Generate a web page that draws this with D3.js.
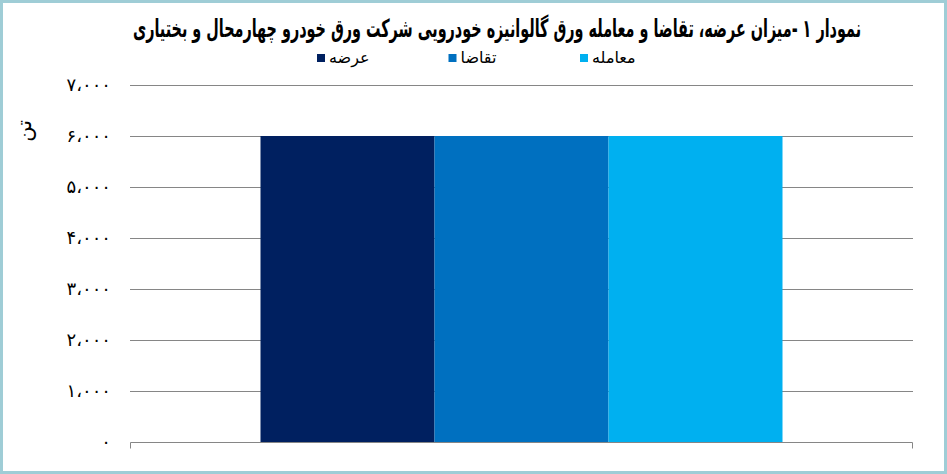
<!DOCTYPE html>
<html>
<head>
<meta charset="utf-8">
<script src="https://cdn.jsdelivr.net/npm/d3@7"></script>
<style>
  body { margin: 0; background: #fff; }
  svg { display: block; font-family: "DejaVu Sans", sans-serif; }
</style>
</head>
<body>
<svg id="chart"></svg>
<script>
const title = "نمودار ۱ -میزان عرضه، تقاضا و معامله ورق گالوانیزه خودرویی شرکت ورق خودرو چهارمحال و بختیاری";
const yTitle = "تن";
const categories = ["ورق گالوانیزه"];
const seriesNames = ["عرضه", "تقاضا", "معامله"];
const seriesValues = [[6000], [6000], [6000]];
const colors = ["#002060", "#0070C0", "#00B0F0"];
const yTicks = [0, 1000, 2000, 3000, 4000, 5000, 6000, 7000];

const width = 947, height = 474;
const margin = { top: 85, right: 34, bottom: 32, left: 130 };

const svg = d3.select("#chart").attr("width", width).attr("height", height);

// frame
svg.append("rect")
  .attr("x", 1.5).attr("y", 1.5)
  .attr("width", width - 3).attr("height", height - 3)
  .attr("fill", "#fff")
  .attr("stroke", "#9fcdd6")
  .attr("stroke-width", 3);

const x0 = d3.scaleBand()
  .domain(categories)
  .range([margin.left, width - margin.right])
  .paddingInner(0)
  .paddingOuter(0.25);

const x1 = d3.scaleBand()
  .domain(seriesNames)
  .range([0, x0.bandwidth()]);

const y = d3.scaleLinear()
  .domain([0, 7000])
  .range([height - margin.bottom, margin.top]);

const toFa = (s) => s.replace(/\d/g, (d) => "۰۱۲۳۴۵۶۷۸۹"[d]).replace(/,/g, "،");
const fmt = d3.format(",");

// gridlines
svg.append("g")
  .attr("class", "grid")
  .selectAll("line")
  .data(yTicks.filter((t) => t > 0))
  .join("line")
  .attr("x1", margin.left)
  .attr("x2", width - margin.right)
  .attr("y1", (d) => Math.round(y(d)) + 0.5)
  .attr("y2", (d) => Math.round(y(d)) + 0.5)
  .attr("stroke", "#868686")
  .attr("stroke-width", 1);

// y axis labels
const yAxis = svg.append("g")
  .attr("transform", `translate(${margin.left - 19},0)`)
  .call(d3.axisLeft(y).tickValues(yTicks).tickSize(0).tickPadding(0).tickFormat((d) => toFa(fmt(d))));
yAxis.select(".domain").remove();
yAxis.attr("font-size", 18).attr("font-family", null);
yAxis.selectAll("text")
  .attr("letter-spacing", 5)
  .attr("fill", "#000");

svg.append("text")
  .attr("transform", `translate(31,${y(6100)}) rotate(-90)`)
  .attr("text-anchor", "middle")
  .attr("font-size", 21)
  .attr("fill", "#000")
  .text(yTitle);

// bars
const rows = categories.map((c, i) => ({
  category: c,
  values: seriesNames.map((s, j) => ({ key: s, value: seriesValues[j][i], color: colors[j] })),
}));

svg.append("g")
  .selectAll("g")
  .data(rows)
  .join("g")
  .attr("transform", (r) => `translate(${x0(r.category)},0)`)
  .selectAll("rect")
  .data((r) => r.values)
  .join("rect")
  .attr("x", (d) => x1(d.key))
  .attr("y", (d) => y(d.value))
  .attr("width", x1.bandwidth())
  .attr("height", (d) => y(0) - y(d.value))
  .attr("fill", (d) => d.color);

// x baseline with end ticks
const xAxis = svg.append("g")
  .attr("transform", `translate(0,${Math.round(y(0)) + 0.5})`);
xAxis.append("path")
  .attr("d", `M${margin.left + 0.5} 6 V0 H${width - margin.right - 0.5} V6`)
  .attr("fill", "none")
  .attr("stroke", "#868686")
  .attr("stroke-width", 1);

// legend
const legendX = d3.scalePoint()
  .domain(seriesNames)
  .range([317, 580]);

const legend = svg.append("g")
  .selectAll("g")
  .data(seriesNames)
  .join("g")
  .attr("transform", (s) => `translate(${legendX(s)},58)`);
legend.append("rect")
  .attr("x", 0).attr("y", -4)
  .attr("width", 8).attr("height", 8)
  .attr("fill", (s, i) => colors[i]);
legend.append("text")
  .attr("x", 12)
  .attr("y", 5)
  .attr("font-size", 16)
  .attr("fill", "#000")
  .text((s) => s);

// title, squeezed to the reference width
const titleG = svg.append("g");
const titleText = titleG.append("text")
  .attr("direction", "rtl")
  .attr("text-anchor", "middle")
  .attr("font-size", 25)
  .attr("font-weight", "bold")
  .attr("fill", "#000")
  .text(title);
const tw = titleText.node().getComputedTextLength();
titleG.attr("transform", `translate(497,37) scale(${Math.min(1, 729 / tw)},1)`);
</script>
</body>
</html>
